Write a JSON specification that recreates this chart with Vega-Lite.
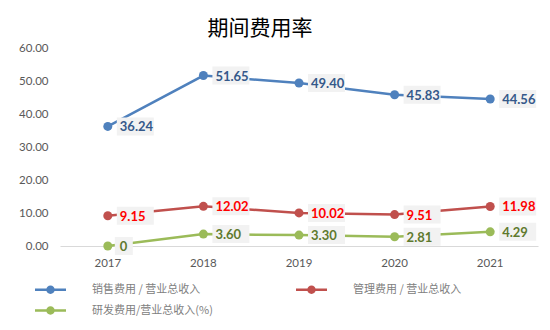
{
  "$schema": "https://vega.github.io/schema/vega-lite/v6.json",
  "autosize": "none",
  "width": 478,
  "height": 198,
  "padding": {"left": 60, "top": 48, "right": 12, "bottom": 84},
  "background": "white",
  "title": {"text": "期间费用率", "font": "Noto Sans CJK SC", "fontSize": 21, "fontWeight": "normal", "color": "#000000", "dx": -39, "offset": 3},
  "config": {"view": {"stroke": null}, "font": "Lato"},
  "data": {"values": [
    {"year": "2017", "series": "销售费用 / 营业总收入", "value": 36.24, "label": "36.24"},
    {"year": "2018", "series": "销售费用 / 营业总收入", "value": 51.65, "label": "51.65"},
    {"year": "2019", "series": "销售费用 / 营业总收入", "value": 49.40, "label": "49.40"},
    {"year": "2020", "series": "销售费用 / 营业总收入", "value": 45.83, "label": "45.83"},
    {"year": "2021", "series": "销售费用 / 营业总收入", "value": 44.56, "label": "44.56"},
    {"year": "2017", "series": "管理费用 / 营业总收入", "value": 9.15, "label": "9.15"},
    {"year": "2018", "series": "管理费用 / 营业总收入", "value": 12.02, "label": "12.02"},
    {"year": "2019", "series": "管理费用 / 营业总收入", "value": 10.02, "label": "10.02"},
    {"year": "2020", "series": "管理费用 / 营业总收入", "value": 9.51, "label": "9.51"},
    {"year": "2021", "series": "管理费用 / 营业总收入", "value": 11.98, "label": "11.98"},
    {"year": "2017", "series": "研发费用/营业总收入(%)", "value": 0, "label": "0"},
    {"year": "2018", "series": "研发费用/营业总收入(%)", "value": 3.60, "label": "3.60"},
    {"year": "2019", "series": "研发费用/营业总收入(%)", "value": 3.30, "label": "3.30"},
    {"year": "2020", "series": "研发费用/营业总收入(%)", "value": 2.81, "label": "2.81"},
    {"year": "2021", "series": "研发费用/营业总收入(%)", "value": 4.29, "label": "4.29"}
  ]},
  "encoding": {
    "x": {"field": "year", "type": "ordinal", "scale": {"type": "band", "paddingInner": 0, "paddingOuter": 0},
      "axis": {"title": null, "labelAngle": 0, "ticks": false, "domainColor": "#d9d9d9", "labelColor": "#595959", "labelFontSize": 11.5, "labelPadding": 11}},
    "y": {"field": "value", "type": "quantitative", "scale": {"domain": [0, 60], "nice": false},
      "axis": {"title": null, "values": [0, 10, 20, 30, 40, 50, 60], "format": ".2f", "grid": false, "domain": false, "ticks": false, "labelColor": "#595959", "labelFontSize": 11.5, "labelPadding": 12}}
  },
  "layer": [
    {
      "mark": {"type": "line", "strokeWidth": 2.5, "point": {"filled": true, "size": 81, "opacity": 1}},
      "encoding": {
        "color": {"field": "series", "type": "nominal",
          "scale": {"domain": ["销售费用 / 营业总收入", "管理费用 / 营业总收入", "研发费用/营业总收入(%)"], "range": ["#4f81bd", "#c0504d", "#9bbb59"]},
          "legend": {"title": null, "orient": "none", "legendX": -25, "legendY": 226, "direction": "horizontal", "columns": 2, "columnPadding": 83, "rowPadding": -10, "padding": 0,
            "symbolType": "M-1,-0.08H1V0.08H-1Z M0.27,0A0.27,0.27 0 1,1 -0.27,0A0.27,0.27 0 1,1 0.27,0Z", "symbolSize": 961, "symbolStrokeWidth": 0, "labelOffset": 26, "labelFontSize": 11, "labelColor": "#808080", "labelFont": "Noto Sans CJK SC", "labelLimit": 300,
            "encode": {"symbols": {"update": {"fill": {"scale": "color", "field": "value"}, "opacity": {"value": 1}}}}}
        }
      }
    },
    {
      "mark": {"type": "point", "filled": true, "fill": "#f2f2f2", "opacity": 1, "size": 1600, "strokeWidth": 0},
      "encoding": {
        "shape": {"condition": {"test": "datum.label === '0'", "value": "M0.35,-0.45H1.25V0.45H0.35Z"}, "value": "M0.45,-0.45H2.3V0.45H0.45Z"}
      }
    },
    {
      "mark": {"type": "text", "align": "left", "baseline": "middle", "dx": 12, "dy": 1, "fontWeight": "bold", "fontSize": 13, "font": "Lato"},
      "encoding": {
        "text": {"field": "label"},
        "color": {"field": "series", "type": "nominal", "scale": {"domain": ["销售费用 / 营业总收入", "管理费用 / 营业总收入", "研发费用/营业总收入(%)"], "range": ["#35598a", "#ff0000", "#5f7a2e"]}, "legend": null}
      }
    }
  ],
  "resolve": {"scale": {"color": "independent"}}
}
